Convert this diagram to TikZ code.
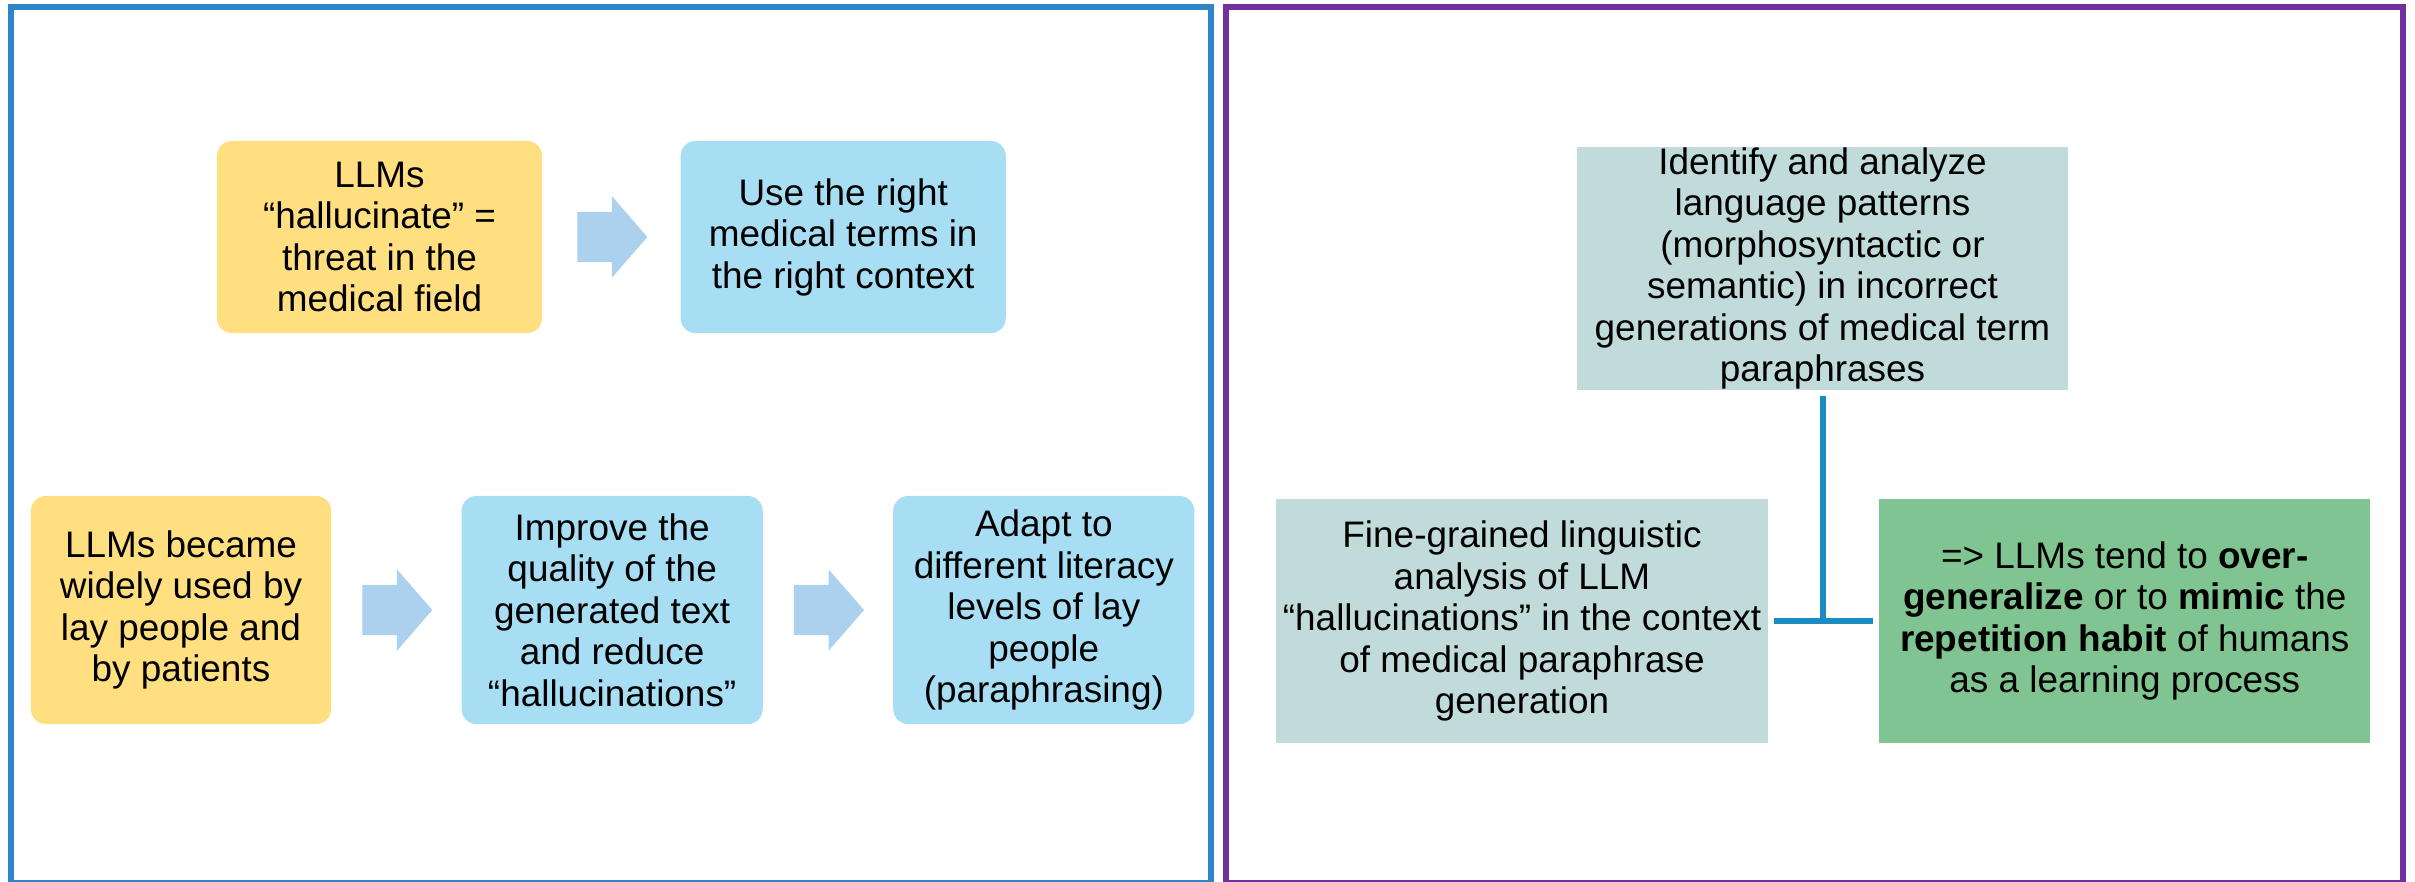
\documentclass[tikz,border=0pt]{standalone}
\usepackage{fontspec}
\setmainfont{Liberation Sans}
\usepackage{tikz}
\usetikzlibrary{positioning,shapes.arrows,calc}
\definecolor{fblue}{HTML}{2E86C8}
\definecolor{fpurple}{HTML}{7030A0}
\definecolor{pyellow}{HTML}{FFDF80}
\definecolor{psky}{HTML}{A7DEF3}
\definecolor{parrow}{HTML}{ABD1EE}
\definecolor{pteal}{HTML}{C0DBDA}
\definecolor{pgreen}{HTML}{7FC491}
\definecolor{plink}{HTML}{1A8CBF}
\begin{document}
\begin{tikzpicture}[x=0.01cm,y=-0.01cm,
  font=\fontsize{10.5}{11.8}\selectfont,
  ybox/.style={fill=pyellow,rounded corners=0.15cm,align=center,inner sep=0pt},
  bbox/.style={fill=psky,rounded corners=0.15cm,align=center,inner sep=0pt},
  tbox/.style={fill=pteal,align=center,inner sep=0pt,minimum width=4.91cm,minimum height=2.43cm},
  barrow/.style={single arrow,fill=parrow,inner xsep=0pt,inner ysep=0.245cm,minimum height=0.7cm,
    single arrow head extend=0.155cm,single arrow tip angle=98},
  link/.style={draw=plink,line width=0.06cm}]
  \useasboundingbox (0,0) rectangle (2415,882);
  \draw[fblue,line width=0.06cm](11,7) rectangle (1210.5,883);
  \draw[fpurple,line width=0.06cm](1226,7) rectangle (2403,883);
  \node[ybox,minimum width=3.25cm,minimum height=1.92cm](hal) at (379.5,237)
    {LLMs\\“hallucinate” =\\threat in the\\medical field};
  \node[bbox,minimum width=3.25cm,minimum height=1.92cm,right=1.37cm of hal](use)
    {Use the right\\medical terms in\\the right context};
  \node[ybox,minimum width=3.0cm,minimum height=2.28cm](lay) at (181,610)
    {LLMs became\\widely used by\\lay people and\\by patients};
  \node[bbox,minimum width=3.01cm,minimum height=2.28cm,right=1.29cm of lay](imp)
    {Improve the\\quality of the\\generated text\\and reduce\\“hallucinations”};
  \node[bbox,minimum width=3.01cm,minimum height=2.28cm,right=1.29cm of imp](ada)
    {Adapt to\\different literacy\\levels of lay\\people\\(paraphrasing)};
  \node[barrow](a1) at ($(hal.east)!0.5!(use.west)+(-10,0)$){};
  \node[barrow](a2) at ($(lay.east)!0.5!(imp.west)+(-10,0)$){};
  \node[barrow](a3) at ($(imp.east)!0.5!(ada.west)+(-10,0)$){};
  \node[tbox](pat) at (1822.5,268.5)
    {Identify and analyze\\language patterns\\(morphosyntactic or\\semantic) in incorrect\\generations of medical term\\paraphrases};
  \node[tbox](fin) at (1522,621)
    {Fine-grained linguistic\\analysis of LLM\\“hallucinations” in the context\\of medical paraphrase\\generation};
  \node[tbox,fill=pgreen,right=1.1cm of fin](ovr)
    {=> LLMs tend to \textbf{over-}\\\textbf{generalize} or to \textbf{mimic} the\\\textbf{repetition habit} of humans\\as a learning process};
  \draw[link,shorten <=0.05cm](pat.south)--(pat.south|-fin.east);
  \draw[link,shorten <=0.06cm,shorten >=0.05cm](fin.east)--(ovr.west);
\end{tikzpicture}
\end{document}
